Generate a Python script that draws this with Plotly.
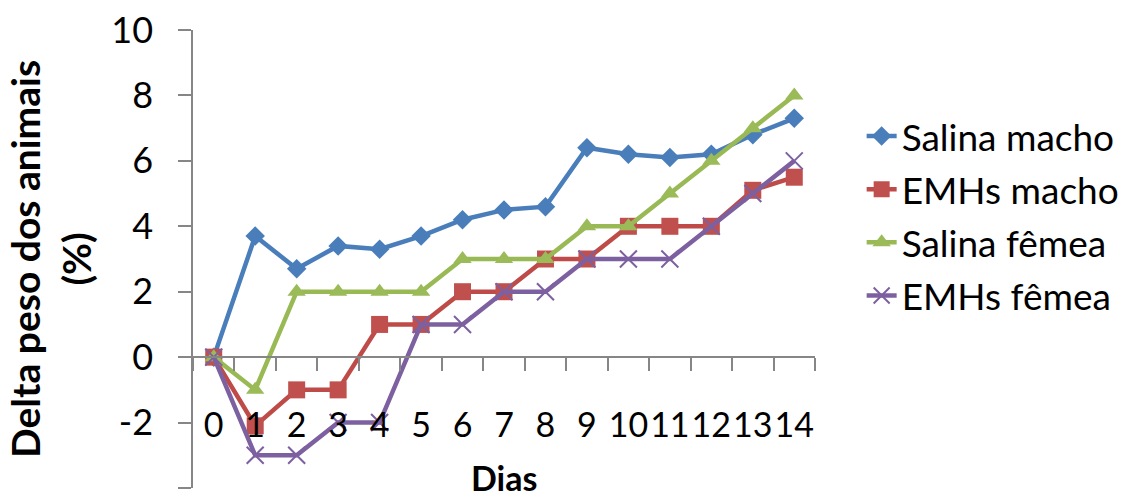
import plotly.graph_objects as go

# Days of observation and weight change (%) per group
dias = list(range(15))
salina_macho = [0, 3.7, 2.7, 3.4, 3.3, 3.7, 4.2, 4.5, 4.6, 6.4, 6.2, 6.1, 6.2, 6.8, 7.3]
emhs_macho = [0, -2.1, -1, -1, 1, 1, 2, 2, 3, 3, 4, 4, 4, 5.1, 5.5]
salina_femea = [0, -1, 2, 2, 2, 2, 3, 3, 3, 4, 4, 5, 6, 7, 8]
emhs_femea = [0, -3, -3, -2, -2, 1, 1, 2, 2, 3, 3, 3, 4, 5, 6]

y_ticks = [-4, -2, 0, 2, 4, 6, 8, 10]
y_tick_labels = ["-4", "-2", "0", "2", "4", "6", "8", "10"]

FONT = "Lato"
AXIS_GRAY = "#868686"

series = [
    ("Salina macho", salina_macho, "#4A7EBB", dict(symbol="diamond", size=15, color="#4A7EBB")),
    ("EMHs macho", emhs_macho, "#BE4B48", dict(symbol="square", size=17, color="#C0504D")),
    ("Salina fêmea", salina_femea, "#98B954", dict(symbol="triangle-up", size=16, color="#9BBB59")),
    ("EMHs fêmea", emhs_femea, "#7D60A0",
     dict(symbol="x-thin", size=17, color="#7D60A0", line=dict(color="#7D60A0", width=2))),
]

categories = [str(d) for d in dias]

fig = go.Figure()
for name, vals, color, marker in series:
    fig.add_trace(go.Scatter(
        x=categories, y=vals, name=name, legendgroup=name,
        mode="lines+markers",
        line=dict(color=color, width=4.5),
        marker=marker,
    ))

fig.update_layout(
    width=1122, height=497,
    margin=dict(l=193, r=307, t=30, b=9, autoexpand=False),
    paper_bgcolor="white", plot_bgcolor="white",
    font=dict(family=FONT, size=34, color="black"),
    showlegend=True,
    legend=dict(
        x=1.075, y=0.835, xanchor="left", yanchor="top",
        font=dict(family=FONT, size=37, color="black"),
        tracegroupgap=2, traceorder="grouped",
        itemwidth=30,
        bgcolor="rgba(0,0,0,0)",
    ),
    xaxis=dict(
        type="category",
        categoryorder="array", categoryarray=categories,
        range=[-0.5, 14.5],
        tickmode="linear", tick0=0, dtick=1,
        anchor="free", position=4 / 14,
        showline=True, linecolor=AXIS_GRAY, linewidth=1.5,
        ticks="outside", ticklen=13, tickwidth=1.5, tickcolor=AXIS_GRAY,
        tickson="boundaries",
        tickangle=0,
        ticklabelstandoff=38,
        showgrid=False, zeroline=False,
        tickfont=dict(family=FONT, size=34, color="black"),
    ),
    yaxis=dict(
        range=[-4, 10],
        tickvals=y_ticks, ticktext=y_tick_labels,
        showline=True, linecolor=AXIS_GRAY, linewidth=1.5,
        ticks="outside", ticklen=13, tickwidth=1.5, tickcolor=AXIS_GRAY,
        ticklabelstandoff=18,
        showgrid=False, zeroline=False,
        tickfont=dict(family=FONT, size=36, color="black"),
    ),
    annotations=[
        dict(text="<b>Delta peso dos animais<br>(%)</b>", xref="paper", yref="paper",
             x=-0.23, y=0.5, xanchor="center", yanchor="middle", textangle=-90,
             showarrow=False, font=dict(family=FONT, size=39, color="black")),
        dict(text="<b>Dias</b>", xref="paper", yref="paper",
             x=0.5, y=0.022, xanchor="center", yanchor="middle",
             showarrow=False, font=dict(family=FONT, size=34, color="black")),
    ],
)

fig.write_html("out.html")
